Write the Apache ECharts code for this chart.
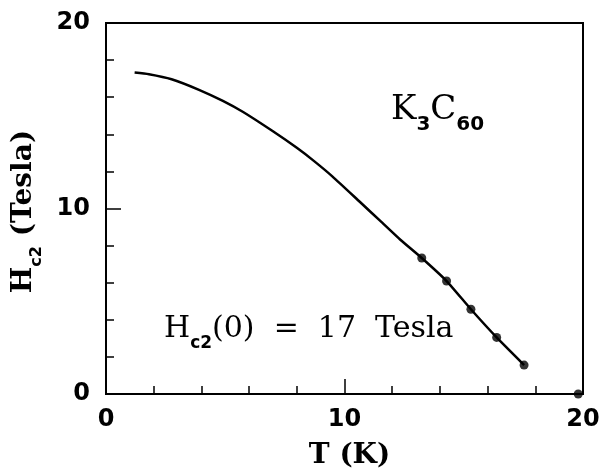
<!DOCTYPE html>
<html>
<head>
<meta charset="utf-8">
<script src="https://cdn.jsdelivr.net/npm/echarts@6/dist/echarts.min.js"></script>
<style>
  html, body { margin: 0; padding: 0; background: #fff; }
  #chart { width: 604px; height: 475px; }
</style>
</head>
<body>
<div id="chart"></div>
<script>
// Upper critical field curve H_c2(T) for K3C60
const curveT = [1.2, 1.8, 2.75, 3.9, 4.9, 5.75, 7.0, 8.0, 8.7, 9.5, 10.65, 11.5, 12.33, 13.24, 14.28, 15.3, 16.38, 17.53];
const curveH = [17.33, 17.24, 16.97, 16.4, 15.8, 15.2, 14.16, 13.27, 12.58, 11.72, 10.35, 9.33, 8.33, 7.33, 6.09, 4.57, 3.05, 1.56];

// Measured points
const pointT = [13.24, 14.28, 15.3, 16.38, 17.53, 19.8];
const pointH = [7.33, 6.09, 4.57, 3.05, 1.56, 0];

const xTicks = [0, 10, 20];
const yTicks = [0, 10, 20];

const chart = echarts.init(document.getElementById('chart'));

const sansBold = { fontFamily: 'DejaVu Sans', fontWeight: 'bold', fontSize: 24, color: '#000' };

chart.setOption({
  animation: false,
  backgroundColor: '#fff',
  grid: {
    left: 106, right: 21, top: 23, bottom: 80,
    show: true, borderColor: '#000', borderWidth: 2, backgroundColor: 'transparent'
  },
  xAxis: {
    type: 'value', min: 0, max: 20, interval: 10,
    name: 'T (K)', nameLocation: 'middle', nameGap: 48,
    nameTextStyle: { fontFamily: 'DejaVu Serif', fontWeight: 'bold', fontSize: 28, color: '#000', padding: [0, 0, 0, 10] },
    axisLine: { show: true, lineStyle: { color: '#000', width: 2 } },
    axisTick: { show: true, inside: true, length: 15, lineStyle: { color: '#000', width: 1.5 } },
    minorTick: { show: true, splitNumber: 5, length: 8, lineStyle: { color: '#000', width: 1.5 } },
    splitLine: { show: false },
    axisLabel: Object.assign({ margin: 14, formatter: v => xTicks.includes(v) ? String(v) : '' }, sansBold)
  },
  yAxis: {
    type: 'value', min: 0, max: 20, interval: 10,
    name: '{h|H}{sub|c2}{h| (Tesla)}', nameLocation: 'middle', nameGap: 68, nameRotate: 90,
    nameTextStyle: {
      padding: [0, 6, 0, 0],
      rich: {
        h: { fontFamily: 'DejaVu Serif', fontWeight: 'bold', fontSize: 28, color: '#000', verticalAlign: 'bottom', lineHeight: 32 },
        sub: { fontFamily: 'DejaVu Sans', fontWeight: 'bold', fontSize: 16, color: '#000', verticalAlign: 'bottom', lineHeight: 32, padding: [0, 0, -7, 0] }
      }
    },
    axisLine: { show: true, lineStyle: { color: '#000', width: 2 } },
    axisTick: { show: true, inside: true, length: 15, lineStyle: { color: '#000', width: 1.5 } },
    minorTick: { show: true, splitNumber: 5, length: 8, lineStyle: { color: '#000', width: 1.5 } },
    splitLine: { show: false },
    axisLabel: Object.assign({ margin: 16, formatter: v => yTicks.includes(v) ? String(v) : '' }, sansBold)
  },
  series: [
    {
      type: 'line',
      data: curveT.map((t, i) => [t, curveH[i]]),
      smooth: 0.2,
      showSymbol: false,
      lineStyle: { color: '#000', width: 2.5 },
      z: 2
    },
    {
      type: 'scatter',
      data: pointT.map((t, i) => [t, pointH[i]]),
      symbol: 'circle',
      symbolSize: 9,
      itemStyle: { color: '#000' },
      z: 3
    }
  ],
  graphic: [
    {
      type: 'text', left: 391, top: 93,
      style: {
        text: '{a|K}{s|3}{a|C}{s|60}',
        rich: {
          a: { fontFamily: 'DejaVu Serif', fontSize: 34, fill: '#000', verticalAlign: 'bottom', lineHeight: 40 },
          s: { fontFamily: 'DejaVu Sans', fontWeight: 'bold', fontSize: 20, fill: '#000', verticalAlign: 'bottom', lineHeight: 40, padding: [0, 0, -8, 0] }
        }
      }
    },
    {
      type: 'text', left: 164, top: 314,
      style: {
        text: '{a|H}{s|c2}{a|(0)  =  17  Tesla}',
        rich: {
          a: { fontFamily: 'DejaVu Serif', fontSize: 30, fill: '#000', verticalAlign: 'bottom', lineHeight: 38 },
          s: { fontFamily: 'DejaVu Sans', fontWeight: 'bold', fontSize: 17, fill: '#000', verticalAlign: 'bottom', lineHeight: 38, padding: [0, 0, -8, 0] }
        }
      }
    }
  ]
});
</script>
</body>
</html>
